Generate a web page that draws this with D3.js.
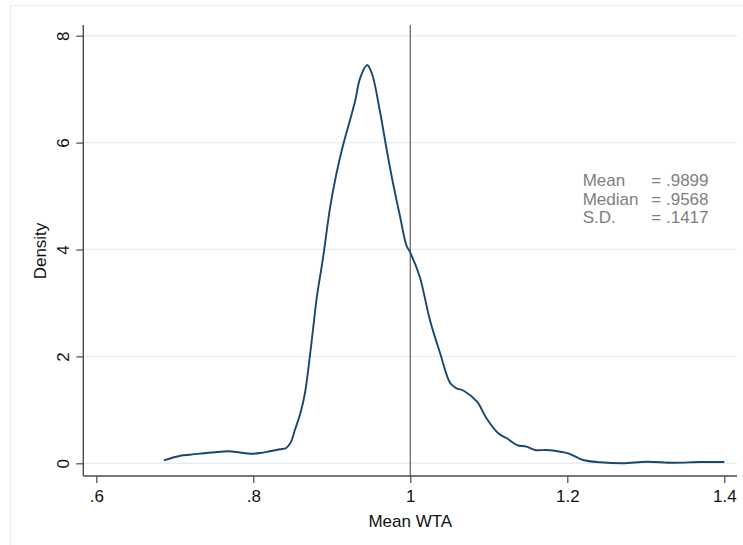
<!DOCTYPE html>
<html>
<head>
<meta charset="utf-8">
<script src="https://cdn.jsdelivr.net/npm/d3@7"></script>
<style>
  html, body { margin: 0; padding: 0; background: #fff; }
  svg { display: block; font-family: "Liberation Sans", Arial, Helvetica, sans-serif; }
</style>
</head>
<body>
<svg id="chart" width="743" height="545"></svg>
<script>
// Kernel density estimate of mean WTA
const wta = [0.686, 0.707, 0.719, 0.732, 0.754, 0.768, 0.783, 0.796, 0.809, 0.821,
  0.834, 0.842, 0.848, 0.853, 0.860, 0.866, 0.872, 0.876, 0.881, 0.885, 0.889,
  0.898, 0.906, 0.915, 0.925, 0.930, 0.936, 0.945, 0.951, 0.961, 0.970, 0.978,
  0.987, 0.995, 1.000, 1.012, 1.025, 1.038, 1.051, 1.059, 1.068, 1.085, 1.097,
  1.112, 1.123, 1.136, 1.148, 1.159, 1.174, 1.191, 1.201, 1.220, 1.242, 1.271,
  1.301, 1.335, 1.369, 1.400];
const density = [0.056, 0.142, 0.161, 0.180, 0.211, 0.225, 0.202, 0.180, 0.193, 0.225,
  0.262, 0.285, 0.400, 0.623, 0.935, 1.330, 1.994, 2.494, 3.117, 3.491, 3.861,
  4.801, 5.426, 5.987, 6.516, 6.797, 7.203, 7.452, 7.297, 6.610, 5.862, 5.239,
  4.614, 4.080, 3.941, 3.491, 2.681, 2.058, 1.497, 1.403, 1.358, 1.152, 0.842,
  0.561, 0.468, 0.342, 0.311, 0.249, 0.249, 0.217, 0.187, 0.062, 0.019, 0.000,
  0.030, 0.011, 0.024, 0.024];

const xTicks = [0.6, 0.8, 1.0, 1.2, 1.4];
const xTickLabels = [".6", ".8", "1", "1.2", "1.4"];
const yTicks = [0, 2, 4, 6, 8];
const yTickLabels = ["0", "2", "4", "6", "8"];
const refLine = 1;
const statNames = ["Mean", "Median", "S.D."];
const statValues = ["= .9899", "= .9568", "= .1417"];

const svg = d3.select("#chart");

// plot region bounds
const plotLeft = 83.3, plotRight = 737, plotTop = 25, plotBottom = 476;

const x = d3.scaleLinear().domain([0.6, 1.4]).range([96.3, 724.3]);
const y = d3.scaleLinear().domain([0, 8]).range([463.3, 35.7]);

// outer graph region frame
svg.append("rect")
  .attr("x", 10.5).attr("y", 5.5)
  .attr("width", 800).attr("height", 600)
  .attr("fill", "none").attr("stroke", "#ececec").attr("stroke-width", 1);

// horizontal grid lines
svg.append("g").selectAll("line")
  .data(yTicks).join("line")
  .attr("x1", plotLeft).attr("x2", plotRight)
  .attr("y1", d => y(d)).attr("y2", d => y(d))
  .attr("stroke", "#e6edf1").attr("stroke-width", 1.4);

// reference line at 1
svg.append("line")
  .attr("x1", x(refLine)).attr("x2", x(refLine))
  .attr("y1", plotTop).attr("y2", plotBottom)
  .attr("stroke", "#6a6a6a").attr("stroke-width", 1.3);

// density curve
const pts = wta.map((v, i) => [v, density[i]]);
svg.append("path")
  .datum(pts)
  .attr("fill", "none")
  .attr("stroke", "#1a476f")
  .attr("stroke-width", 1.9)
  .attr("stroke-linejoin", "round")
  .attr("d", d3.line().x(d => x(d[0])).y(d => y(d[1])).curve(d3.curveCatmullRom.alpha(0.5)));

// y axis
const yAxis = svg.append("g")
  .attr("transform", `translate(${plotLeft},0)`)
  .call(d3.axisLeft(y).tickValues(yTicks).tickSize(7).tickPadding(0)
    .tickFormat((d, i) => yTickLabels[i]));
yAxis.select(".domain").remove();
yAxis.selectAll(".tick line").attr("stroke", "#4a4a4a").attr("stroke-width", 1.2);
yAxis.selectAll(".tick text")
  .attr("x", 0).attr("y", 0).attr("dy", 0)
  .attr("transform", "translate(-14.8,0) rotate(-90)")
  .attr("text-anchor", "middle")
  .attr("fill", "#111")
  .style("font-size", "17px");
svg.append("line")
  .attr("x1", plotLeft).attr("x2", plotLeft).attr("y1", plotTop).attr("y2", plotBottom)
  .attr("stroke", "#4a4a4a").attr("stroke-width", 1.4);

// x axis
const xAxis = svg.append("g")
  .attr("transform", `translate(0,${plotBottom})`)
  .call(d3.axisBottom(x).tickValues(xTicks).tickSize(7).tickPadding(0)
    .tickFormat((d, i) => xTickLabels[i]));
xAxis.select(".domain").remove();
xAxis.selectAll(".tick line").attr("stroke", "#4a4a4a").attr("stroke-width", 1.2);
xAxis.selectAll(".tick text")
  .attr("y", 26).attr("dy", 0)
  .attr("fill", "#111")
  .style("font-size", "17px");
svg.append("line")
  .attr("x1", plotLeft).attr("x2", plotRight).attr("y1", plotBottom).attr("y2", plotBottom)
  .attr("stroke", "#4a4a4a").attr("stroke-width", 1.4);

// axis titles
svg.append("text")
  .attr("x", x(1)).attr("y", 527)
  .attr("text-anchor", "middle")
  .attr("fill", "#111")
  .style("font-size", "17px")
  .text("Mean WTA");
svg.append("text")
  .attr("transform", "translate(45.5,251) rotate(-90)")
  .attr("text-anchor", "middle")
  .attr("fill", "#111")
  .style("font-size", "17px")
  .text("Density");

// summary statistics
const stats = svg.append("g").style("font-size", "17px").attr("fill", "#808080");
statNames.forEach((name, i) => {
  const by = 186 + i * 18.6;
  stats.append("text").attr("x", 582.7).attr("y", by).text(name);
  stats.append("text").attr("x", 708.5).attr("y", by).attr("text-anchor", "end").text(statValues[i]);
});
</script>
</body>
</html>
